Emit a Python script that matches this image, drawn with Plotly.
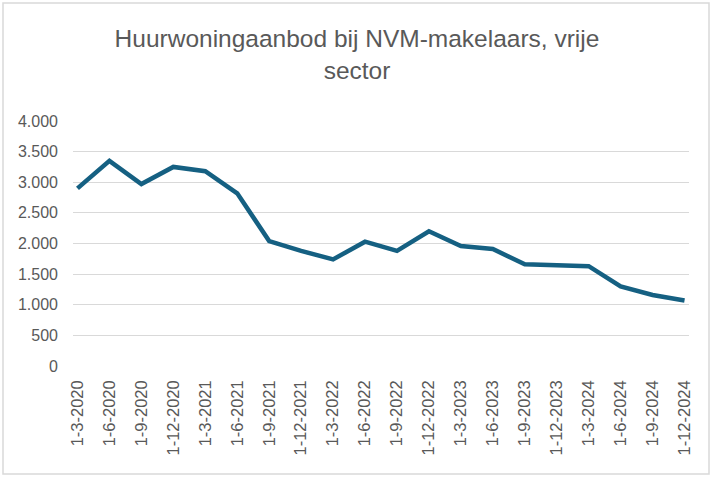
import plotly.graph_objects as go

# Quarterly dates (category labels) and supply counts
dates = ['1-3-2020', '1-6-2020', '1-9-2020', '1-12-2020',
         '1-3-2021', '1-6-2021', '1-9-2021', '1-12-2021',
         '1-3-2022', '1-6-2022', '1-9-2022', '1-12-2022',
         '1-3-2023', '1-6-2023', '1-9-2023', '1-12-2023',
         '1-3-2024', '1-6-2024', '1-9-2024', '1-12-2024']
aanbod = [2900, 3350, 2970, 3250,
          3180, 2820, 2040, 1880,
          1740, 2030, 1880, 2200,
          1960, 1910, 1660, 1645,
          1630, 1300, 1160, 1070]

y_ticks = [0, 500, 1000, 1500, 2000, 2500, 3000, 3500, 4000]
y_ticktext = ['0', '500', '1.000', '1.500', '2.000', '2.500', '3.000', '3.500', '4.000']

W, H = 714, 479
ml, mr, mt, mb = 73, 25, 121, 113
pw, ph = W - ml - mr, H - mt - mb

fig = go.Figure()
fig.add_trace(go.Scatter(
    x=list(range(len(dates))), y=aanbod,
    mode='lines',
    line=dict(color='#156082', width=4.5),
    hoverinfo='x+y',
    showlegend=False,
))

# chart border (outside the plot area), in paper coords
def px_x(p):
    return (p - ml) / pw

def px_y(p):
    return (H - mb - p) / ph

fig.add_shape(type='rect', xref='paper', yref='paper',
              x0=px_x(3), x1=px_x(709), y0=px_y(474), y1=px_y(3),
              line=dict(color='#d9d9d9', width=1.5), fillcolor='rgba(0,0,0,0)',
              layer='below')

fig.update_layout(
    width=W, height=H,
    margin=dict(l=ml, r=mr, t=mt, b=mb),
    paper_bgcolor='white', plot_bgcolor='white',
    title=dict(
        text='Huurwoningaanbod bij NVM-makelaars, vrije<br>sector',
        x=0.5, xanchor='center', y=1 - 47 / H, yanchor='top',
        font=dict(family='Liberation Sans, Arial, sans-serif', size=24.5, color='#595959'),
    ),
    font=dict(family='Liberation Sans, Arial, sans-serif', size=16, color='#595959'),
)

fig.update_xaxes(
    range=[-0.14, len(dates) - 1 + 0.14],
    tickmode='array', tickvals=list(range(len(dates))), ticktext=dates,
    tickangle=-90, showgrid=False, zeroline=False, showline=False,
    ticks='', ticklabelstandoff=10,
    tickfont=dict(size=16.5, color='#595959'),
)
fig.update_yaxes(
    range=[0, 4000], tickmode='array', tickvals=y_ticks, ticktext=y_ticktext,
    showgrid=True, gridcolor='#d9d9d9', gridwidth=1.2, zeroline=False,
    showline=False, ticks='', ticklabelstandoff=14,
    tickfont=dict(size=16, color='#595959'),
)

fig.write_html("out.html", config={'displayModeBar': False},
               post_script="document.body.style.margin='0';document.body.style.overflow='hidden';")
